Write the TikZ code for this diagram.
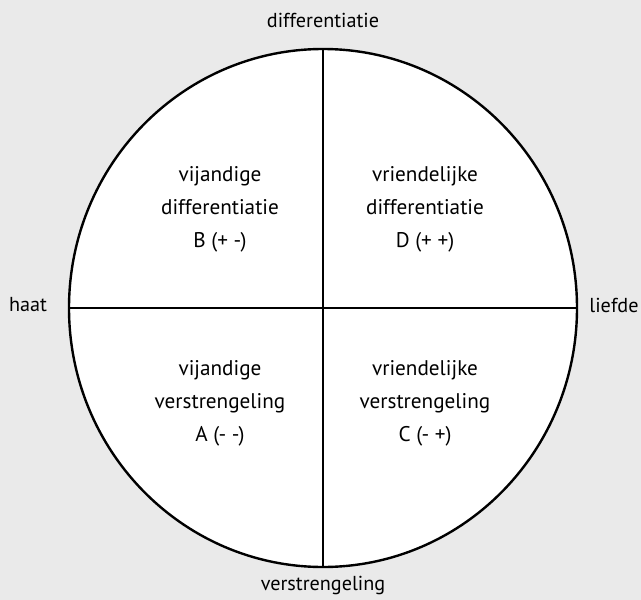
\documentclass[tikz,border=0pt]{standalone}
\usepackage{fontspec}
\setmainfont{PT Sans}
\definecolor{bg}{HTML}{EAEAEA}
\begin{document}
\begin{tikzpicture}[x=1pt,y=-1pt,
  quad/.style={align=center,inner sep=0pt,font=\fontsize{21.2}{33}\selectfont},
  axislabel/.style={inner sep=0pt,font=\fontsize{20.2}{24}\selectfont}]
\fill[bg] (0,0) rectangle (641,600);
\useasboundingbox (0,0) rectangle (641,600);
\coordinate (c) at (323,308);
\coordinate (n) at (323,49);
\coordinate (s) at (323,567);
\coordinate (w) at (69,308);
\coordinate (e) at (577,308);
\draw[line width=2.4pt,fill=white] (c) ellipse [x radius=254, y radius=259];
\draw[line width=2pt] (n) -- (s);
\draw[line width=2pt] (w) -- (e);
\node[axislabel] (top) at (323,20) {differentiatie};
\node[axislabel] (bottom) at (323,585) {verstrengeling};
\node[axislabel] (left) at (28,305) {haat};
\node[axislabel] (right) at (614,305) {liefde};
\node[quad] (B) at (220,209) {vijandige\\differentiatie\\B (+ -)};
\node[quad] (D) at (425,209) {vriendelijke\\differentiatie\\D (+ +)};
\node[quad] (A) at (220,403) {vijandige\\verstrengeling\\A (- -)};
\node[quad] (C) at (425,403) {vriendelijke\\verstrengeling\\C (- +)};
\end{tikzpicture}
\end{document}
